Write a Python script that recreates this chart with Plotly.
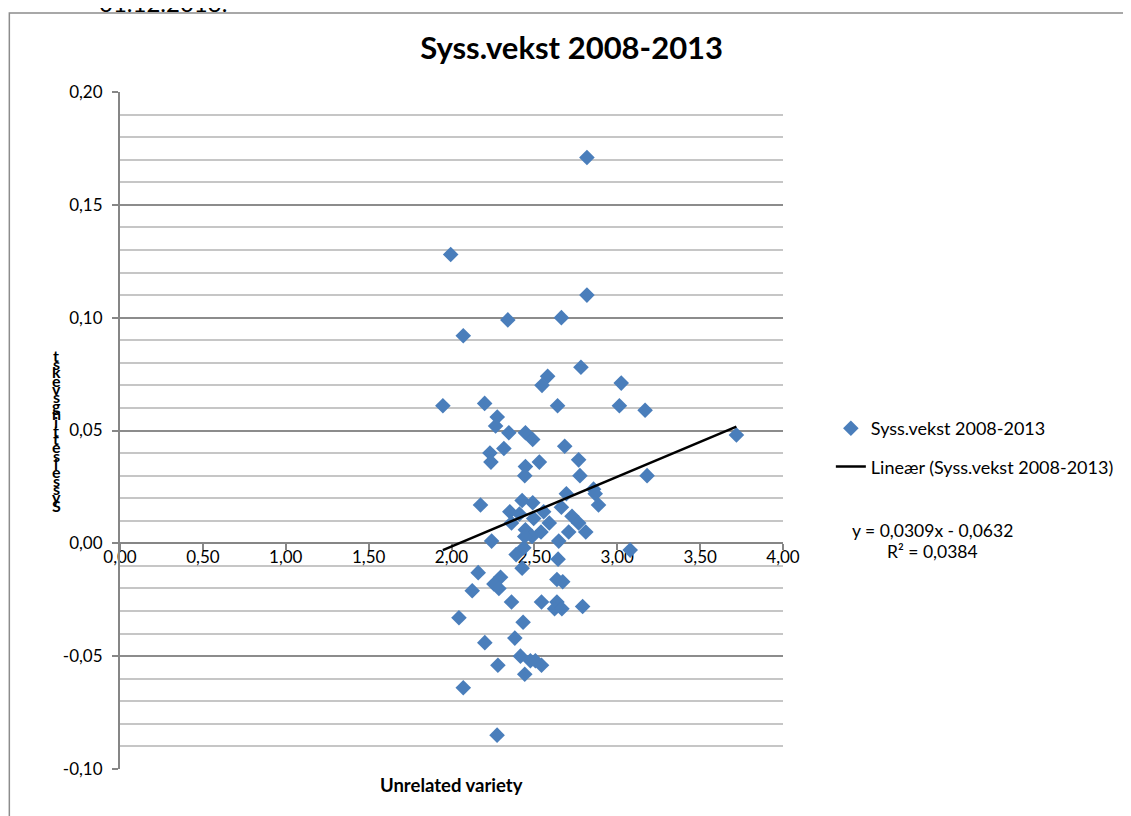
import plotly.graph_objects as go

# unrelated variety (x) and employment growth 2008-2013 (y)
unrelated_variety = [
    2.817, 1.995, 2.817, 2.663, 2.340, 2.071, 2.781, 2.580, 2.546, 3.024,
    1.948, 2.200, 2.640, 3.013, 3.168, 2.276, 2.266, 2.346, 2.446, 2.490,
    2.683, 2.316, 2.232, 2.238, 2.446, 2.530, 2.767, 2.442, 2.775, 3.180,
    3.719, 2.175, 2.352, 2.426, 2.490, 2.410, 2.556, 2.663, 2.693, 2.857,
    2.867, 2.887, 2.362, 2.496, 2.590, 2.727, 2.767, 2.810, 2.707, 2.446,
    2.540, 2.486, 2.442, 2.242, 2.647, 3.078, 2.390, 2.436, 2.643, 2.161,
    2.296, 2.256, 2.286, 2.125, 2.426, 2.636, 2.671, 2.362, 2.543, 2.636,
    2.622, 2.666, 2.791, 2.045, 2.432, 2.201, 2.382, 2.416, 2.476, 2.506,
    2.543, 2.280, 2.442, 2.071, 2.275,
]
syss_vekst = [
    0.171, 0.128, 0.110, 0.100, 0.099, 0.092, 0.078, 0.074, 0.070, 0.071,
    0.061, 0.062, 0.061, 0.061, 0.059, 0.056, 0.052, 0.049, 0.049, 0.046,
    0.043, 0.042, 0.040, 0.036, 0.034, 0.036, 0.037, 0.030, 0.030, 0.030,
    0.048, 0.017, 0.014, 0.019, 0.018, 0.013, 0.014, 0.016, 0.022, 0.024,
    0.022, 0.017, 0.009, 0.011, 0.009, 0.012, 0.009, 0.005, 0.005, 0.006,
    0.005, 0.003, 0.003, 0.001, 0.001, -0.003, -0.005, -0.002, -0.007, -0.013,
    -0.015, -0.018, -0.020, -0.021, -0.011, -0.016, -0.017, -0.026, -0.026, -0.026,
    -0.029, -0.029, -0.028, -0.033, -0.035, -0.044, -0.042, -0.050, -0.052, -0.052,
    -0.054, -0.054, -0.058, -0.064, -0.085,
]

# axis ticks (Excel style, hyphen minus and decimal comma)
y_tickvals = [-0.10, -0.05, 0.00, 0.05, 0.10, 0.15, 0.20]
y_ticktext = ["-0,10", "-0,05", "0,00", "0,05", "0,10", "0,15", "0,20"]

# trendline as reported in the chart
slope = 0.0309
intercept = -0.0632
r_squared = 0.0384

series_name = "Syss.vekst 2008-2013"
trend_name = "Lineær (Syss.vekst 2008-2013)"
y_title = "Sysselsettingsvekst"
x_title = "Unrelated variety"
date_text = "01.12.2013."

x_range = [0, 4]
y_range = [-0.10, 0.20]

FONT = "Lato, Liberation Sans, sans-serif"
OFF = 8  # page body margin
W, H = 1131 - OFF, 816 - OFF
L, R, T, B = 112, 346, 84, 47


# page pixel -> paper coords
def px_x(p):
    return (p - OFF - L) / (W - L - R)


def px_y(p):
    return (H - B - (p - OFF)) / (H - T - B)


def note(text, x, y, size, **kw):
    d = dict(
        text=text, x=px_x(x), y=px_y(y), xref="paper", yref="paper",
        xanchor="center", yanchor="middle", showarrow=False,
        font=dict(size=size, color="black"),
    )
    d.update(kw)
    return d


trend_x = [min(unrelated_variety), max(unrelated_variety)]
trend_y = [slope * v + intercept for v in trend_x]

fig = go.Figure()
fig.add_trace(
    go.Scatter(
        x=unrelated_variety,
        y=syss_vekst,
        mode="markers",
        name=series_name,
        legendgroup="a",
        marker=dict(symbol="diamond", size=12, color="#4a7ebb"),
    )
)
fig.add_trace(
    go.Scatter(
        x=trend_x,
        y=trend_y,
        mode="lines",
        name=trend_name,
        legendgroup="b",
        line=dict(color="black", width=2.5),
    )
)

annotations = [
    note(f"<b>{x_title}</b>", 453, 785, 18.5),
    note(f"y = {slope:.4f}x - {abs(intercept):.4f}".replace(".", ","), 935, 530, 17.5),
    note(f"R² = {r_squared:.4f}".replace(".", ","), 935, 551, 17.5),
    note(date_text, 97, 3, 24, xanchor="left"),
]
# stacked (upright) letters of the y-axis title, bottom to top
for i, ch in enumerate(y_title):
    annotations.append(note(f"<b>{ch}</b>", 56, 505 - i * 8.33, 16))

fig.update_layout(
    width=W,
    height=H,
    margin=dict(l=L, r=R, t=T, b=B),
    paper_bgcolor="white",
    plot_bgcolor="white",
    separators=",.",
    font=dict(family=FONT, color="black"),
    title=dict(
        text=f"<b>{series_name}</b>",
        x=px_x(573), xref="paper", xanchor="center",
        y=1 - (48 - OFF) / H, yanchor="middle",
        font=dict(size=31, color="black"),
    ),
    showlegend=True,
    legend=dict(
        x=px_x(833), y=px_y(410), xanchor="left", yanchor="top",
        font=dict(size=18, color="black"),
        tracegroupgap=12, bgcolor="rgba(0,0,0,0)",
    ),
    annotations=annotations,
    shapes=[
        dict(
            type="rect", xref="paper", yref="paper",
            x0=px_x(9), x1=px_x(1127), y0=px_y(840), y1=px_y(13),
            line=dict(color="#8c8c8c", width=1.5), layer="below",
        )
    ],
)

fig.update_xaxes(
    range=x_range,
    dtick=0.5,
    tickformat=".2f",
    anchor="free",
    position=(0 - y_range[0]) / (y_range[1] - y_range[0]),
    showline=True,
    linecolor="#868686",
    linewidth=2,
    ticks="outside",
    ticklen=6,
    tickwidth=2,
    tickcolor="#868686",
    ticklabelstandoff=-8,
    showgrid=False,
    zeroline=False,
    layer="below traces",
    tickfont=dict(size=17, color="black"),
)
fig.update_yaxes(
    range=y_range,
    tickvals=y_tickvals,
    ticktext=y_ticktext,
    showgrid=True,
    gridcolor="#8c8c8c",
    gridwidth=2,
    minor=dict(dtick=0.01, showgrid=True, gridcolor="#c6c6c6", gridwidth=2),
    showline=True,
    linecolor="#868686",
    linewidth=2,
    ticks="outside",
    ticklen=6,
    tickwidth=2,
    tickcolor="#868686",
    ticklabelstandoff=6,
    zeroline=False,
    tickfont=dict(size=17, color="black"),
)

fig.write_html("out.html")
